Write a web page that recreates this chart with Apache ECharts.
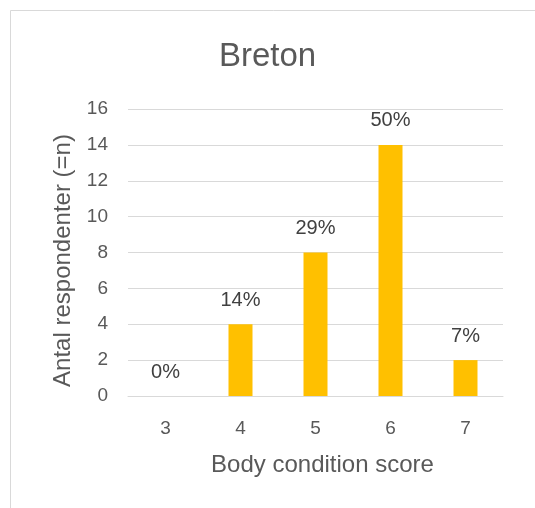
<!DOCTYPE html>
<html><head><meta charset="utf-8">
<script src="https://cdn.jsdelivr.net/npm/echarts@6/dist/echarts.min.js"></script>
<style>html,body{margin:0;padding:0;background:#fff}#c{width:535px;height:508px}</style>
</head><body><div id="c"></div>
<script>
const categories = ['3', '4', '5', '6', '7'];
const counts = [0, 4, 8, 14, 2];
const percentLabels = ['0%', '14%', '29%', '50%', '7%'];
const yTicks = [0, 2, 4, 6, 8, 10, 12, 14, 16];

const FONT = 'Liberation Sans';
const chart = echarts.init(document.getElementById('c'), null, {renderer: 'canvas'});
chart.setOption({
  backgroundColor: '#fff',
  animation: false,
  textStyle: {fontFamily: FONT},
  graphic: [{
    type: 'rect', shape: {x: 10.5, y: 10.5, width: 600, height: 600},
    style: {fill: 'none', stroke: '#d9d9d9', lineWidth: 1}, silent: true
  }],
  title: {
    text: 'Breton', left: 'center', top: 35,
    textStyle: {fontFamily: FONT, fontSize: 33, fontWeight: 'normal', color: '#595959'}
  },
  grid: {left: 128, right: 32, top: 109, bottom: 112, containLabel: false},
  xAxis: {
    type: 'category', data: categories,
    name: 'Body condition score', nameLocation: 'middle', nameGap: 57,
    nameTextStyle: {fontFamily: FONT, fontSize: 24, color: '#595959', padding: [0, 0, 0, 14]},
    axisLine: {show: true, lineStyle: {color: '#d9d9d9', width: 1}},
    axisTick: {show: false},
    axisLabel: {fontFamily: FONT, fontSize: 19, color: '#595959', margin: 23}
  },
  yAxis: {
    type: 'value', min: yTicks[0], max: yTicks[yTicks.length - 1], interval: 2,
    name: 'Antal respondenter (=n)', nameLocation: 'middle', nameGap: 53,
    nameTextStyle: {fontFamily: FONT, fontSize: 24, color: '#595959', padding: [0, 16, 0, 0]},
    axisLine: {show: false}, axisTick: {show: false},
    axisLabel: {fontFamily: FONT, fontSize: 19, color: '#595959', margin: 20},
    splitLine: {lineStyle: {color: '#d9d9d9', width: 1}}
  },
  series: [{
    type: 'bar', data: counts, barWidth: '32%',
    itemStyle: {color: '#FFC000'},
    label: {
      show: true, position: 'top', distance: 14,
      fontFamily: FONT, fontSize: 20, color: '#404040',
      formatter: p => percentLabels[p.dataIndex]
    }
  }]
});
</script></body></html>
